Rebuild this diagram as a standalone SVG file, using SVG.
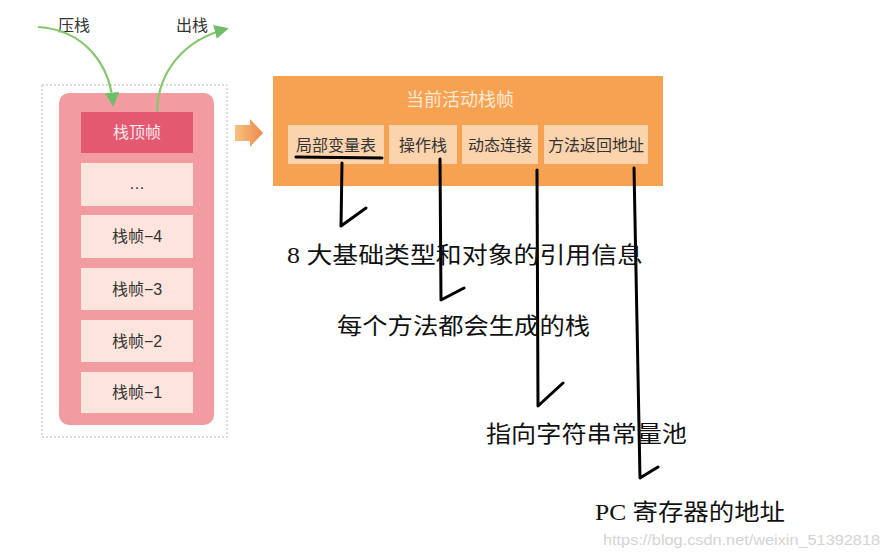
<svg xmlns="http://www.w3.org/2000/svg" width="884" height="558" viewBox="0 0 884 558">
<defs>
<linearGradient id="og" x1="0" y1="0" x2="1" y2="0"><stop offset="0" stop-color="#f8c07e"/><stop offset="1" stop-color="#ec8a4a"/></linearGradient>
<marker id="ga" viewBox="0 0 10 10" refX="8" refY="5" markerWidth="6.5" markerHeight="6.5" orient="auto"><path d="M0,0 L10,5 L0,10 z" fill="#6fbf6a"/></marker>
</defs>
<style>
.lbl{font-family:"Liberation Sans","Noto Sans CJK SC",sans-serif;font-size:16px;fill:#333;text-anchor:middle}
.frame{fill:#fde4dc}
.sub{fill:#fbd4ae}
.note{font-family:"Liberation Serif","Noto Sans CJK SC",serif;font-size:23px;fill:#111}
.ink{fill:none;stroke:#000;stroke-width:3;stroke-linecap:round;stroke-linejoin:round}
.grn{fill:none;stroke:#86c66f;stroke-width:2.2}
</style>
<rect width="884" height="558" fill="#fff"/>
<g id="stack">
<rect x="42" y="85" width="185" height="352" fill="#fff" stroke="#b8b8b8" stroke-dasharray="2,2"/>
<rect x="59" y="93" width="155" height="332" rx="10" fill="#f29ca2"/>
</g>
<g id="top-frame"><rect x="81" y="112" width="112" height="41" fill="#e35a70"/><text x="137" y="138" class="lbl" style="fill:#fde8ea">栈顶帧</text></g>
<g id="frame-dots"><rect x="81" y="163" width="112" height="43" class="frame"/><text x="137" y="189" class="lbl">…</text></g>
<g id="frame-4"><rect x="81" y="215" width="112" height="43" class="frame"/><text x="137" y="242" class="lbl">栈帧−4</text></g>
<g id="frame-3"><rect x="81" y="268" width="112" height="42" class="frame"/><text x="137" y="295" class="lbl">栈帧−3</text></g>
<g id="frame-2"><rect x="81" y="320" width="112" height="42" class="frame"/><text x="137" y="347" class="lbl">栈帧−2</text></g>
<g id="frame-1"><rect x="81" y="372" width="112" height="41" class="frame"/><text x="137" y="398" class="lbl">栈帧−1</text></g>
<g id="push"><text x="74" y="31" class="lbl">压栈</text></g>
<g id="pop"><text x="192" y="31" class="lbl">出栈</text></g>
<g id="big-arrow"><path d="M235,125 L250,125 L250,119 L263,133 L250,147 L250,141 L235,141 z" fill="url(#og)"/></g>
<g id="current-frame">
<rect x="273" y="76" width="390" height="110" fill="#f7a253"/>
<text x="460" y="106" class="lbl" style="fill:#fde8d2;font-size:18px">当前活动栈帧</text>
</g>
<g id="locals"><rect x="288" y="125" width="96" height="39" class="sub"/><text x="336" y="151" class="lbl">局部变量表</text></g>
<g id="operand"><rect x="389" y="125" width="68" height="39" class="sub"/><text x="423" y="151" class="lbl">操作栈</text></g>
<g id="dynlink"><rect x="462" y="125" width="76" height="39" class="sub"/><text x="500" y="151" class="lbl">动态连接</text></g>
<g id="retaddr"><rect x="544" y="125" width="104" height="39" class="sub"/><text x="596" y="151" class="lbl">方法返回地址</text></g>
<g id="connectors">
<path class="grn" d="M38,27 C85,30 110,65 113,104" marker-end="url(#ga)"/>
<path class="grn" d="M157,112 C158,70 185,40 226,29" marker-end="url(#ga)"/>
<path class="ink" d="M296,157 L382,158"/>
<path class="ink" d="M342,163 L341,226 L366,208"/>
<path class="ink" d="M440,159 L441,300 L464,288"/>
<path class="ink" d="M537,170 L538,406 L563,383"/>
<path class="ink" d="M634,168 L640,478 L658,467"/>
</g>
<g id="notes">
<text x="287" y="263" class="note" textLength="356" lengthAdjust="spacingAndGlyphs">8 大基础类型和对象的引用信息</text>
<text x="337" y="334" class="note" textLength="253" lengthAdjust="spacingAndGlyphs">每个方法都会生成的栈</text>
<text x="486" y="442" class="note" textLength="201" lengthAdjust="spacingAndGlyphs">指向字符串常量池</text>
<text x="595" y="520" class="note" textLength="190" lengthAdjust="spacingAndGlyphs">PC 寄存器的地址</text>
</g>
<text x="603" y="545" style="font-family:'Liberation Sans',sans-serif;font-size:15px;fill:#d4d4d4" textLength="277" lengthAdjust="spacingAndGlyphs">https://blog.csdn.net/weixin_51392818</text>
</svg>
